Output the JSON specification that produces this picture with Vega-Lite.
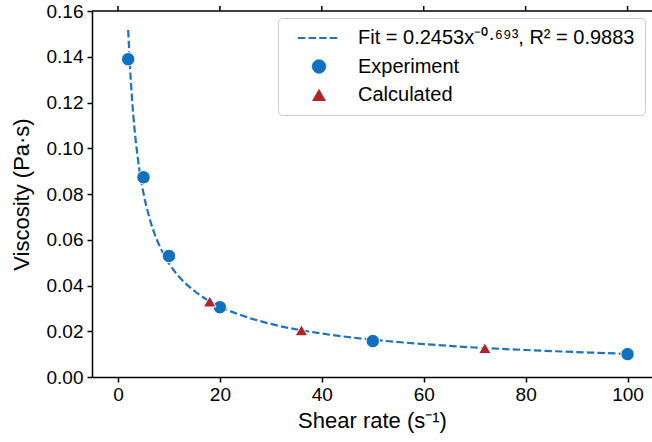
{
  "$schema": "https://vega.github.io/schema/vega-lite/v6.json",
  "width": 560,
  "height": 366,
  "autosize": "none",
  "padding": {"left": 92, "top": 11, "right": 0, "bottom": 65},
  "background": "white",
  "config": {
    "view": {"stroke": null},
    "font": "Liberation Sans",
    "axis": {
      "domainColor": "black", "domainWidth": 1.5,
      "tickColor": "black", "tickWidth": 1.5, "tickSize": 5,
      "labelFontSize": 19, "labelColor": "black", "labelFont": "Liberation Sans", "labelPadding": 4,
      "titleFontSize": 22, "titleFontWeight": "normal", "titleColor": "black", "titleFont": "Liberation Sans",
      "grid": false
    }
  },
  "datasets": {
    "fit": [
      {"shear_rate": 2, "viscosity": 0.1517, "series": "Fit = 0.2453x⁻⁰·⁶⁹³, R² = 0.9883"},
      {"shear_rate": 2.5, "viscosity": 0.1300, "series": "Fit = 0.2453x⁻⁰·⁶⁹³, R² = 0.9883"},
      {"shear_rate": 3, "viscosity": 0.1146, "series": "Fit = 0.2453x⁻⁰·⁶⁹³, R² = 0.9883"},
      {"shear_rate": 3.5, "viscosity": 0.1030, "series": "Fit = 0.2453x⁻⁰·⁶⁹³, R² = 0.9883"},
      {"shear_rate": 4, "viscosity": 0.0938, "series": "Fit = 0.2453x⁻⁰·⁶⁹³, R² = 0.9883"},
      {"shear_rate": 5, "viscosity": 0.0804, "series": "Fit = 0.2453x⁻⁰·⁶⁹³, R² = 0.9883"},
      {"shear_rate": 6, "viscosity": 0.0709, "series": "Fit = 0.2453x⁻⁰·⁶⁹³, R² = 0.9883"},
      {"shear_rate": 7, "viscosity": 0.0637, "series": "Fit = 0.2453x⁻⁰·⁶⁹³, R² = 0.9883"},
      {"shear_rate": 8, "viscosity": 0.0581, "series": "Fit = 0.2453x⁻⁰·⁶⁹³, R² = 0.9883"},
      {"shear_rate": 10, "viscosity": 0.0497, "series": "Fit = 0.2453x⁻⁰·⁶⁹³, R² = 0.9883"},
      {"shear_rate": 12, "viscosity": 0.0438, "series": "Fit = 0.2453x⁻⁰·⁶⁹³, R² = 0.9883"},
      {"shear_rate": 15, "viscosity": 0.0376, "series": "Fit = 0.2453x⁻⁰·⁶⁹³, R² = 0.9883"},
      {"shear_rate": 20, "viscosity": 0.0308, "series": "Fit = 0.2453x⁻⁰·⁶⁹³, R² = 0.9883"},
      {"shear_rate": 25, "viscosity": 0.0264, "series": "Fit = 0.2453x⁻⁰·⁶⁹³, R² = 0.9883"},
      {"shear_rate": 30, "viscosity": 0.0232, "series": "Fit = 0.2453x⁻⁰·⁶⁹³, R² = 0.9883"},
      {"shear_rate": 40, "viscosity": 0.0190, "series": "Fit = 0.2453x⁻⁰·⁶⁹³, R² = 0.9883"},
      {"shear_rate": 50, "viscosity": 0.0163, "series": "Fit = 0.2453x⁻⁰·⁶⁹³, R² = 0.9883"},
      {"shear_rate": 60, "viscosity": 0.0144, "series": "Fit = 0.2453x⁻⁰·⁶⁹³, R² = 0.9883"},
      {"shear_rate": 70, "viscosity": 0.0129, "series": "Fit = 0.2453x⁻⁰·⁶⁹³, R² = 0.9883"},
      {"shear_rate": 80, "viscosity": 0.0118, "series": "Fit = 0.2453x⁻⁰·⁶⁹³, R² = 0.9883"},
      {"shear_rate": 90, "viscosity": 0.0109, "series": "Fit = 0.2453x⁻⁰·⁶⁹³, R² = 0.9883"},
      {"shear_rate": 100, "viscosity": 0.0101, "series": "Fit = 0.2453x⁻⁰·⁶⁹³, R² = 0.9883"}
    ],
    "exp": [
      {"shear_rate": 2, "viscosity": 0.1389, "series": "Experiment"},
      {"shear_rate": 5, "viscosity": 0.0873, "series": "Experiment"},
      {"shear_rate": 10, "viscosity": 0.0529, "series": "Experiment"},
      {"shear_rate": 20, "viscosity": 0.0305, "series": "Experiment"},
      {"shear_rate": 50, "viscosity": 0.0157, "series": "Experiment"},
      {"shear_rate": 100, "viscosity": 0.0100, "series": "Experiment"}
    ],
    "calc": [
      {"shear_rate": 18, "viscosity": 0.0330, "series": "Calculated"},
      {"shear_rate": 36, "viscosity": 0.0204, "series": "Calculated"},
      {"shear_rate": 72, "viscosity": 0.0126, "series": "Calculated"}
    ],
    "topticks": [
      {"shear_rate": 0, "viscosity": 0.16}, {"shear_rate": 20, "viscosity": 0.16}, {"shear_rate": 40, "viscosity": 0.16},
      {"shear_rate": 60, "viscosity": 0.16}, {"shear_rate": 80, "viscosity": 0.16}, {"shear_rate": 100, "viscosity": 0.16}
    ]
  },
  "layer": [
    {
      "data": {"name": "topticks"},
      "mark": {"type": "rule", "color": "black", "strokeWidth": 1.5},
      "encoding": {
        "x": {
          "field": "shear_rate", "type": "quantitative",
          "scale": {"domain": [-5.1, 104.8], "nice": false, "zero": false},
          "axis": {"orient": "bottom", "values": [0, 20, 40, 60, 80, 100], "title": "Shear rate (s⁻¹)", "labelPadding": 3, "titlePadding": 6}
        },
        "y": {
          "field": "viscosity", "type": "quantitative",
          "scale": {"domain": [0, 0.16], "nice": false, "zero": false},
          "axis": {"values": [0, 0.02, 0.04, 0.06, 0.08, 0.1, 0.12, 0.14, 0.16], "format": ".2f", "title": "Viscosity (Pa·s)", "titlePadding": 13}
        },
        "y2": {"datum": 0.16219}
      }
    },
    {
      "data": {"values": [{"viscosity": 0.16}]},
      "mark": {"type": "rule", "color": "black", "strokeWidth": 1.5},
      "encoding": {
        "y": {"field": "viscosity", "type": "quantitative"}
      }
    },
    {
      "data": {"name": "fit"},
      "mark": {"type": "line", "strokeDash": [7.4, 3.2], "strokeWidth": 2.2, "interpolate": "monotone"},
      "encoding": {
        "x": {"field": "shear_rate", "type": "quantitative"},
        "y": {"field": "viscosity", "type": "quantitative"},
        "color": {
          "field": "series", "type": "nominal",
          "scale": {
            "domain": ["Fit = 0.2453x⁻⁰·⁶⁹³, R² = 0.9883", "Experiment", "Calculated"],
            "range": ["#1c74c0", "#1170c0", "#b02427"]
          },
          "legend": {
            "title": null,
            "orient": "top-right",
            "offset": 7,
            "labelFontSize": 20,
            "labelFont": "Liberation Sans",
            "labelColor": "black",
            "labelLimit": 0,
            "labelOffset": 29,
            "symbolSize": 1764,
            "symbolOffset": 21,
            "rowPadding": 8.5,
            "padding": 10,
            "strokeColor": "#cccccc",
            "fillColor": "white",
            "cornerRadius": 4,
            "encode": {
              "symbols": {
                "update": {
                  "shape": {"signal": "datum.value === 'Experiment' ? 'circle' : datum.value === 'Calculated' ? 'triangle-up' : 'stroke'"},
                  "size": {"signal": "datum.value === 'Experiment' ? 180 : datum.value === 'Calculated' ? 160 : 1764"},
                  "fill": {"signal": "datum.value === 'Experiment' ? '#1170c0' : datum.value === 'Calculated' ? '#b02427' : 'transparent'"},
                  "stroke": {"signal": "datum.value === 'Experiment' || datum.value === 'Calculated' ? 'white' : '#1c74c0'"},
                  "strokeWidth": {"signal": "datum.value === 'Experiment' || datum.value === 'Calculated' ? 1 : 2.2"},
                  "strokeDash": {"signal": "datum.value === 'Experiment' || datum.value === 'Calculated' ? [1, 0] : [7.4, 3.2]"},
                  "opacity": {"value": 1}
                }
              }
            }
          }
        }
      }
    },
    {
      "data": {"name": "exp"},
      "mark": {"type": "point", "filled": true, "shape": "circle", "size": 180, "stroke": "white", "strokeWidth": 1, "opacity": 1},
      "encoding": {
        "x": {"field": "shear_rate", "type": "quantitative"},
        "y": {"field": "viscosity", "type": "quantitative"},
        "color": {"field": "series", "type": "nominal"}
      }
    },
    {
      "data": {"name": "calc"},
      "mark": {"type": "point", "filled": true, "shape": "triangle-up", "size": 160, "stroke": "white", "strokeWidth": 1, "opacity": 1},
      "encoding": {
        "x": {"field": "shear_rate", "type": "quantitative"},
        "y": {"field": "viscosity", "type": "quantitative"},
        "color": {"field": "series", "type": "nominal"}
      }
    }
  ]
}
